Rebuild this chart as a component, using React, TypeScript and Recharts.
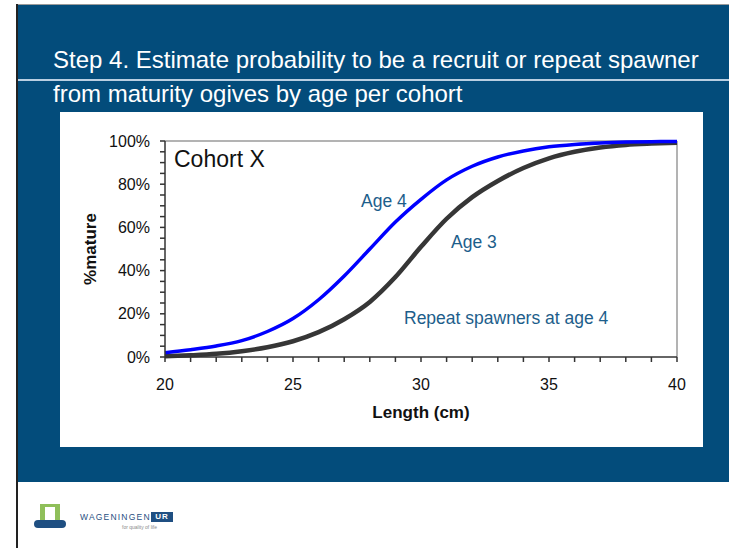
import React from "react";
import {
  LineChart,
  Line,
  XAxis,
  YAxis,
  ReferenceLine,
} from "recharts";

// length classes (cm)
const lengths = [20, 21, 22, 23, 24, 25, 26, 27, 28, 29, 30, 31, 32, 33, 34, 35, 36, 37, 38, 39, 40];
// % mature
const age4 = [2, 3.4, 5.1, 7.6, 11.8, 17.8, 26.5, 37.5, 50, 62.5, 73, 82, 88.3, 92.6, 95.4, 97.3, 98.4, 99.1, 99.5, 99.7, 99.8];
const age3 = [0.3, 0.8, 1.5, 2.7, 4.5, 7.3, 11.5, 17.5, 25.5, 37, 51, 64, 74, 81.5, 87.5, 92, 95, 97, 98.2, 98.8, 99.2];

const xTicks = [20, 21, 22, 23, 24, 25, 26, 27, 28, 29, 30, 31, 32, 33, 34, 35, 36, 37, 38, 39, 40];
const yTicks = [0, 5, 10, 15, 20, 25, 30, 35, 40, 45, 50, 55, 60, 65, 70, 75, 80, 85, 90, 95, 100];

const data = lengths.map((len, i) => ({ len, age4: age4[i], age3: age3[i] }));

const FONT = "'Liberation Sans', Arial, sans-serif";
const PANEL = "#034c7b";
const NOTE = "#1d5e8b";

const note = (text: string, left: number, top: number, size: number, color: string, spacing = 0) => (
  <div
    style={{
      position: "absolute",
      left,
      top,
      fontSize: size,
      lineHeight: 1,
      color,
      whiteSpace: "nowrap",
      letterSpacing: spacing,
      fontFamily: FONT,
    }}
  >
    {text}
  </div>
);

export default function App() {
  return (
    <div
      style={{
        position: "absolute",
        left: 0,
        top: 0,
        width: 729,
        height: 548,
        background: "#fff",
        overflow: "hidden",
        fontFamily: FONT,
      }}
    >
      {/* slide frame */}
      <div style={{ position: "absolute", left: 17, top: 4, width: 712, height: 1, background: "#9a9a9a" }} />
      <div style={{ position: "absolute", left: 16, top: 4, width: 2, height: 544, background: "#222" }} />
      <div style={{ position: "absolute", left: 18, top: 5, width: 711, height: 477, background: PANEL }} />
      <div style={{ position: "absolute", left: 18, top: 79, width: 711, height: 1.5, background: "#b9cfe2" }} />

      {note("Step 4. Estimate probability to be a recruit or repeat spawner", 53, 48, 24, "#fff")}
      {note("from maturity ogives by age per cohort", 53, 81.5, 24, "#fff")}

      {/* chart box */}
      <div style={{ position: "absolute", left: 60, top: 112, width: 643, height: 335, background: "#fff" }}>
        <LineChart
          width={643}
          height={335}
          data={data}
          margin={{ top: 29, right: 26, left: 25, bottom: 30 }}
        >
          <XAxis
            dataKey="len"
            type="number"
            domain={[20, 40]}
            ticks={xTicks}
            interval={0}
            height={60}
            tickSize={5}
            tickMargin={17}
            tickFormatter={(v: number) => (v % 5 === 0 ? String(v) : "")}
            stroke="#333"
            strokeWidth={1.5}
            tick={{ fill: "#111", fontSize: 16, fontFamily: FONT }}
            label={{
              value: "Length (cm)",
              position: "insideBottom",
              offset: -1,
              style: { fill: "#111", fontSize: 17, fontWeight: 700, fontFamily: FONT },
            }}
          />
          <YAxis
            type="number"
            domain={[0, 100]}
            ticks={yTicks}
            interval={0}
            width={80}
            tickSize={5}
            tickMargin={10}
            tickFormatter={(v: number) => (v % 20 === 0 ? `${v}%` : "")}
            stroke="#333"
            strokeWidth={1.5}
            tick={{ fill: "#111", fontSize: 16, fontFamily: FONT }}
            label={{
              value: "%mature",
              angle: -90,
              position: "insideLeft",
              offset: 5,
              style: { textAnchor: "middle", fill: "#111", fontSize: 17, fontWeight: 700, fontFamily: FONT },
            }}
          />
          <ReferenceLine y={100} stroke="#9a9a9a" strokeWidth={1.5} />
          <ReferenceLine x={40} stroke="#9a9a9a" strokeWidth={1.5} />
          <Line
            type="monotone"
            dataKey="age3"
            stroke="#363636"
            strokeWidth={4.5}
            dot={false}
            isAnimationActive={false}
          />
          <Line
            type="monotone"
            dataKey="age4"
            stroke="#0000ff"
            strokeWidth={3.5}
            dot={false}
            isAnimationActive={false}
          />
        </LineChart>
      </div>

      {note("Cohort X", 174, 148.2, 23, "#111")}
      {note("Age 4", 361, 192.5, 17.5, NOTE)}
      {note("Age 3", 451, 233.5, 17.5, NOTE)}
      {note("Repeat spawners at age 4", 404, 310.2, 17.5, NOTE)}

      {/* logo */}
      <div style={{ position: "absolute", left: 40, top: 504, width: 20, height: 18, background: "#8fbf5a" }} />
      <div style={{ position: "absolute", left: 45, top: 507, width: 10, height: 13, background: "#fff" }} />
      <div style={{ position: "absolute", left: 34, top: 520, width: 32, height: 8, background: "#1f4f82", borderRadius: 4 }} />
      {note("WAGENINGEN", 80, 513, 8.5, "#1f4f82", 1.2)}
      <div
        style={{
          position: "absolute",
          left: 151,
          top: 512,
          width: 22,
          height: 10,
          background: "#1f4f82",
          color: "#fff",
          fontSize: 8,
          lineHeight: "10px",
          textAlign: "center",
          fontWeight: 700,
          letterSpacing: 1,
          fontFamily: FONT,
        }}
      >
        UR
      </div>
      {note("for quality of life", 122, 525, 5, "#8a8a8a")}
    </div>
  );
}
